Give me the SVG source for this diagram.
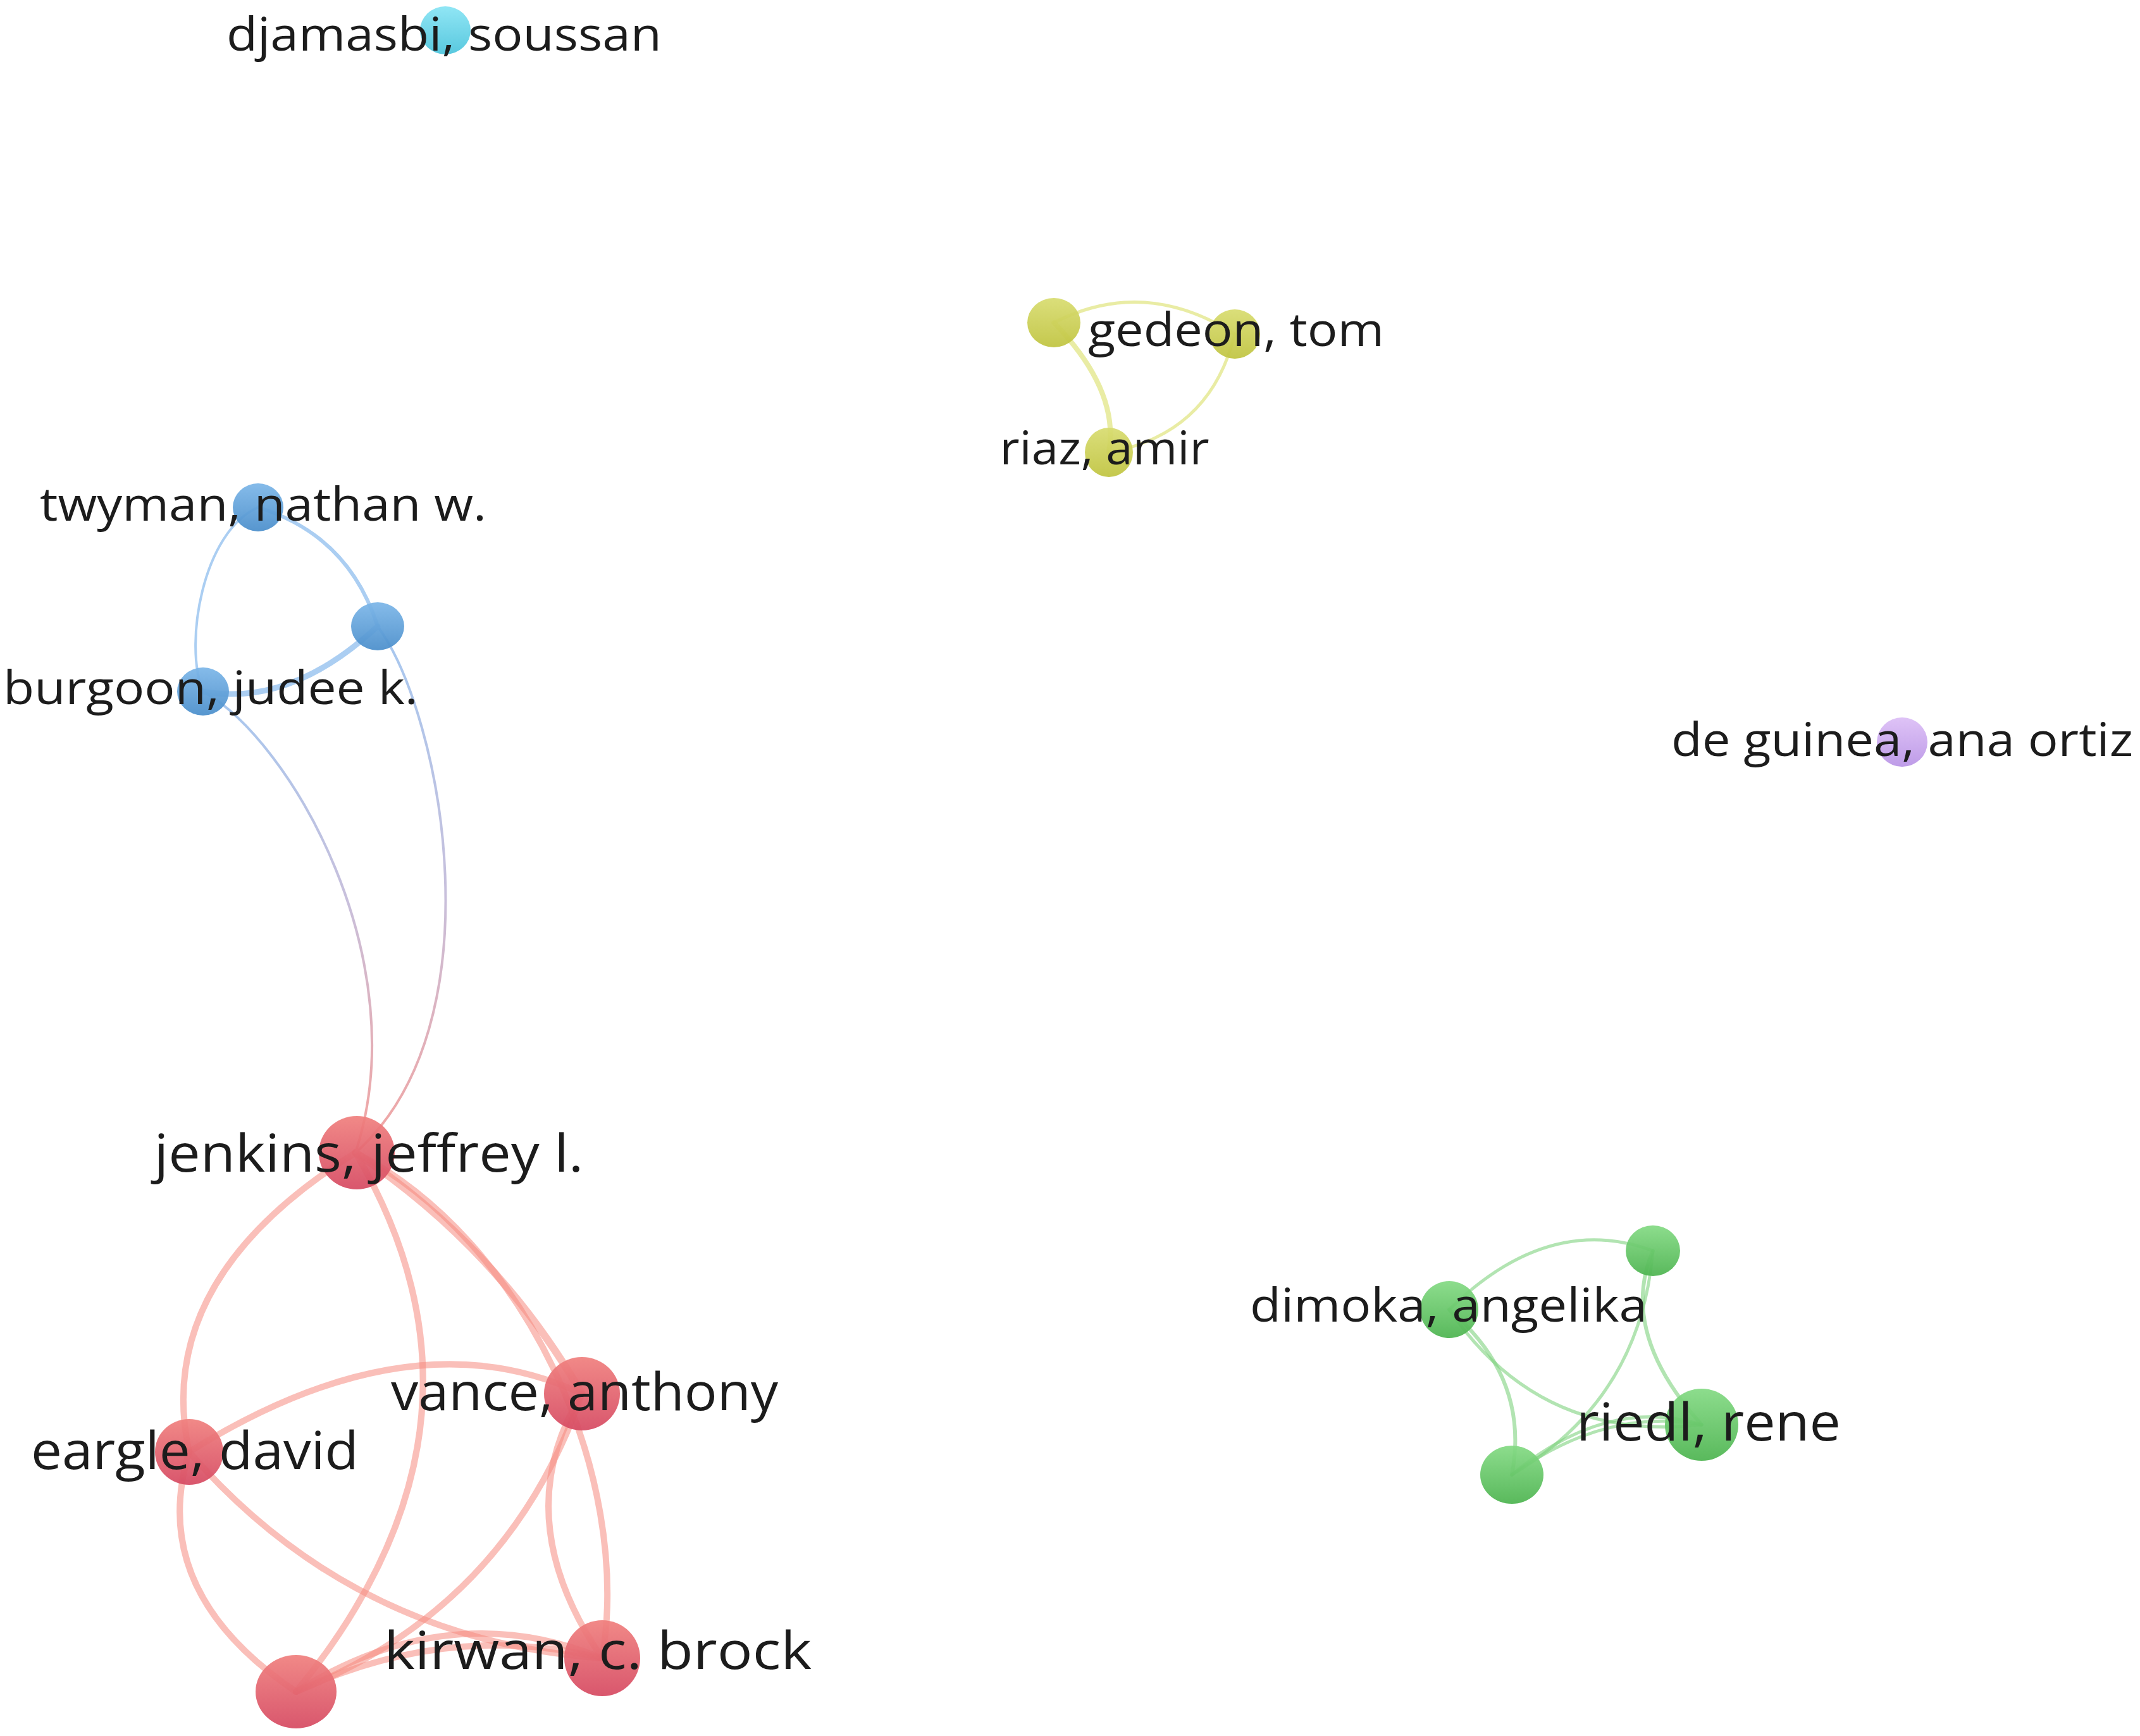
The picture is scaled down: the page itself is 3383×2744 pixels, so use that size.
<svg xmlns="http://www.w3.org/2000/svg" width="3383" height="2744" viewBox="0 0 3383 2744">
<defs>
<linearGradient id="gRed" x1="0" y1="0" x2="0" y2="1"><stop offset="0" stop-color="#f0807e"/><stop offset="1" stop-color="#d64a62"/></linearGradient>
<linearGradient id="gBlue" x1="0" y1="0" x2="0" y2="1"><stop offset="0" stop-color="#7cb6e8"/><stop offset="1" stop-color="#4a8ecb"/></linearGradient>
<linearGradient id="gYellow" x1="0" y1="0" x2="0" y2="1"><stop offset="0" stop-color="#d8dc70"/><stop offset="1" stop-color="#c0c440"/></linearGradient>
<linearGradient id="gGreen" x1="0" y1="0" x2="0" y2="1"><stop offset="0" stop-color="#84da84"/><stop offset="1" stop-color="#4db450"/></linearGradient>
<linearGradient id="gPurple" x1="0" y1="0" x2="0" y2="1"><stop offset="0" stop-color="#dcbef6"/><stop offset="1" stop-color="#b994e6"/></linearGradient>
<linearGradient id="gCyan" x1="0" y1="0" x2="0" y2="1"><stop offset="0" stop-color="#88e4f4"/><stop offset="1" stop-color="#4cc4dc"/></linearGradient>
<linearGradient id="gBJ" gradientUnits="userSpaceOnUse" x1="321" y1="1093" x2="562" y2="1822"><stop offset="0" stop-color="#a6c8f0"/><stop offset="0.5" stop-color="#c8c0dc"/><stop offset="1" stop-color="#f4a4a0"/></linearGradient>
<linearGradient id="gTJ" gradientUnits="userSpaceOnUse" x1="597" y1="990" x2="562" y2="1822"><stop offset="0" stop-color="#a6c8f0"/><stop offset="0.5" stop-color="#c8c0dc"/><stop offset="1" stop-color="#f4a4a0"/></linearGradient>
<style>
.e{fill:none;stroke-linecap:round}
.er{stroke:#f58a80;stroke-opacity:0.55;stroke-width:10}
.eb{stroke:#8fbdee;stroke-opacity:0.75}
.ey{stroke:#dfe47e;stroke-opacity:0.7}
.eg{stroke:#7fd27f;stroke-opacity:0.6;stroke-width:5}
.n{opacity:0.93}
.t{font-family:"Open Sans","Liberation Sans",sans-serif;fill:#1c1c1c;text-anchor:middle}
.s{font-size:74px}
.b{font-size:83px}
</style>
</defs>
<rect width="3383" height="2744" fill="#ffffff"/>
<g id="connectors">
<path class="e er" d="M562,1822 Q240,2022 299,2295"/>
<path class="e er" d="M562,1822 Q815,2252 468,2674"/>
<path class="e er" d="M562,1822 Q785,1970 920,2203" style="stroke-width:12"/>
<path class="e er" d="M562,1822 C830,1960 1000,2330 952,2621"/>
<path class="e er" d="M299,2295 Q650,2076 920,2203"/>
<path class="e er" d="M299,2295 Q557,2592 952,2621"/>
<path class="e er" d="M299,2295 Q232,2515 468,2674"/>
<path class="e er" d="M920,2203 Q800,2398 952,2621"/>
<path class="e er" d="M920,2203 Q802,2542 468,2674"/>
<path class="e er" d="M468,2674 Q710,2522 952,2621"/>
<path class="e er" d="M468,2674 Q710,2562 952,2621"/>
<path class="e eb" d="M408,802 C320,840 290,1020 321,1093" stroke-width="4"/>
<path class="e eb" d="M408,802 Q551,846 597,990" stroke-width="6"/>
<path class="e eb" d="M321,1093 Q459,1118 597,990" stroke-width="9"/>
<path class="e" d="M321,1093 C460,1170 660,1520 562,1822" stroke="url(#gBJ)" stroke-width="4"/>
<path class="e" d="M597,990 C700,1130 790,1620 562,1822" stroke="url(#gTJ)" stroke-width="4"/>
<path class="e ey" d="M1666,510 Q1809,437 1952,528" stroke-width="5"/>
<path class="e ey" d="M1666,510 Q1770,617 1753,715" stroke-width="8"/>
<path class="e ey" d="M1952,528 Q1913,686 1753,715" stroke-width="5"/>
<path class="e eg" d="M2291,2070 Q2448,1916 2613,1977"/>
<path class="e eg" d="M2613,1977 Q2558,2105 2690,2252" style="stroke-width:6"/>
<path class="e eg" d="M2613,1977 Q2593,2212 2390,2331"/>
<path class="e eg" d="M2291,2070 Q2435,2281 2690,2252"/>
<path class="e eg" d="M2291,2070 Q2419,2179 2390,2331" style="stroke-width:6"/>
<path class="e eg" d="M2390,2331 Q2540,2206 2690,2252"/>
<path class="e eg" d="M2390,2331 Q2540,2224 2690,2252"/>
</g>
<g id="node-djamasbi"><ellipse class="n" cx="704" cy="48" rx="40" ry="38" fill="url(#gCyan)"/><text class="t s" x="702" y="80" textLength="688" lengthAdjust="spacingAndGlyphs">djamasbi, soussan</text></g>
<g id="node-twyman"><ellipse class="n" cx="408" cy="802" rx="40" ry="38" fill="url(#gBlue)"/><text class="t s" x="416" y="823" textLength="706" lengthAdjust="spacingAndGlyphs">twyman, nathan w.</text></g>
<g id="node-blue3"><ellipse class="n" cx="597" cy="990" rx="42" ry="38" fill="url(#gBlue)"/></g>
<g id="node-burgoon"><ellipse class="n" cx="321" cy="1093" rx="41" ry="38" fill="url(#gBlue)"/><text class="t s" x="333" y="1113" textLength="656" lengthAdjust="spacingAndGlyphs">burgoon, judee k.</text></g>
<g id="node-yellow1"><ellipse class="n" cx="1666" cy="510" rx="42" ry="39" fill="url(#gYellow)"/></g>
<g id="node-gedeon"><ellipse class="n" cx="1952" cy="528" rx="40" ry="39" fill="url(#gYellow)"/><text class="t s" x="1954" y="547" textLength="468" lengthAdjust="spacingAndGlyphs">gedeon, tom</text></g>
<g id="node-riaz"><ellipse class="n" cx="1753" cy="715" rx="38" ry="39" fill="url(#gYellow)"/><text class="t s" x="1746" y="734" textLength="331" lengthAdjust="spacingAndGlyphs">riaz, amir</text></g>
<g id="node-deguinea"><ellipse class="n" cx="3007" cy="1173" rx="40" ry="39" fill="url(#gPurple)"/><text class="t s" x="3007" y="1195" textLength="730" lengthAdjust="spacingAndGlyphs">de guinea, ana ortiz</text></g>
<g id="node-jenkins"><ellipse class="n" cx="564" cy="1822" rx="60" ry="58" fill="url(#gRed)"/><text class="t b" x="583" y="1852" textLength="679" lengthAdjust="spacingAndGlyphs">jenkins, jeffrey l.</text></g>
<g id="node-vance"><ellipse class="n" cx="920" cy="2203" rx="60" ry="58" fill="url(#gRed)"/><text class="t b" x="924" y="2229" textLength="612" lengthAdjust="spacingAndGlyphs">vance, anthony</text></g>
<g id="node-eargle"><ellipse class="n" cx="299" cy="2295" rx="54" ry="52" fill="url(#gRed)"/><text class="t b" x="308" y="2322" textLength="518" lengthAdjust="spacingAndGlyphs">eargle, david</text></g>
<g id="node-red5"><ellipse class="n" cx="468" cy="2674" rx="64" ry="58" fill="url(#gRed)"/></g>
<g id="node-kirwan"><ellipse class="n" cx="952" cy="2621" rx="60" ry="60" fill="url(#gRed)"/><text class="t b" x="945" y="2638" textLength="676" lengthAdjust="spacingAndGlyphs">kirwan, c. brock</text></g>
<g id="node-green-top"><ellipse class="n" cx="2613" cy="1977" rx="43" ry="40" fill="url(#gGreen)"/></g>
<g id="node-dimoka"><ellipse class="n" cx="2291" cy="2070" rx="46" ry="45" fill="url(#gGreen)"/><text class="t s" x="2290" y="2089" textLength="628" lengthAdjust="spacingAndGlyphs">dimoka, angelika</text></g>
<g id="node-green-bottom"><ellipse class="n" cx="2390" cy="2331" rx="50" ry="46" fill="url(#gGreen)"/></g>
<g id="node-riedl"><ellipse class="n" cx="2690" cy="2252" rx="58" ry="57" fill="url(#gGreen)"/><text class="t b" x="2701" y="2277" textLength="418" lengthAdjust="spacingAndGlyphs">riedl, rene</text></g>
</svg>
